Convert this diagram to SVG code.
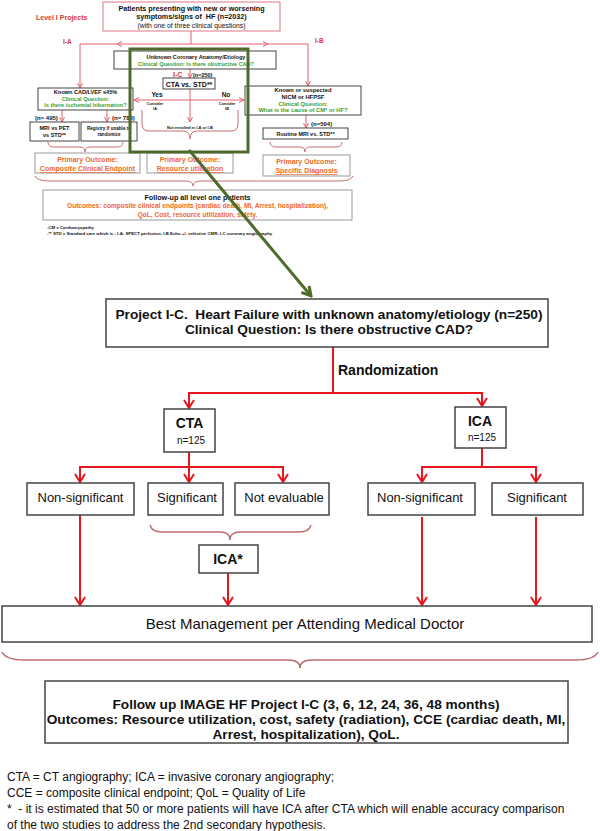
<svg xmlns="http://www.w3.org/2000/svg" width="600" height="831" viewBox="0 0 600 831">
<style>
text{font-family:"Liberation Sans",Arial,Helvetica,sans-serif;fill:#111}
.b{font-weight:bold}
.m{text-anchor:middle}
.red{fill:#d9383a}
.grn{fill:#3a9e35}
.org{fill:#f0692a}
.u{text-decoration:underline}
.bx{fill:#fff;stroke:#444;stroke-width:1.5}
.sb{fill:#fff;stroke:#444;stroke-width:1}
.gb{fill:#fff;stroke:#999;stroke-width:1}
.pl{fill:none;stroke:#e0606c;stroke-width:1}
.rl{fill:none;stroke:#e8161c;stroke-width:2}
.br{fill:none;stroke:#bf6c6c;stroke-width:1.5}
.brs{fill:none;stroke:#c87070;stroke-width:1}
.gr{fill:none;stroke:#4e6b2c;stroke-width:3}
</style>
<defs>
<marker id="aR" viewBox="0 0 10 12" refX="9" refY="6" markerWidth="10" markerHeight="12" orient="auto-start-reverse" markerUnits="userSpaceOnUse"><path d="M1,1 L9,6 L1,11" fill="none" stroke="#e8161c" stroke-width="2"/></marker>
<marker id="aP" viewBox="0 0 6 6" refX="5.5" refY="3" markerWidth="6" markerHeight="6" orient="auto-start-reverse" markerUnits="userSpaceOnUse"><path d="M0.5,0.5 L5.5,3 L0.5,5.5" fill="none" stroke="#e0606c" stroke-width="1"/></marker>
<marker id="aG" viewBox="0 0 12 12" refX="10" refY="6" markerWidth="12" markerHeight="12" orient="auto" markerUnits="userSpaceOnUse"><path d="M1,1 L10,6 L1,11" fill="none" stroke="#4e6b2c" stroke-width="3"/></marker>
</defs>

<!-- ===== Top overview (Level I projects) ===== -->
<g id="connectors-top">
<line class="pl" x1="191" y1="31" x2="191" y2="44"/>
<line class="pl" x1="117" y1="44" x2="268" y2="44" marker-start="url(#aP)" marker-end="url(#aP)"/>
<path class="pl" d="M117,44 L80,44 L80,88" marker-end="url(#aP)"/>
<path class="pl" d="M268,44 L308,44 L308,86" marker-end="url(#aP)"/>
<line class="pl" x1="190" y1="69" x2="190" y2="78" marker-end="url(#aP)"/>
<line class="pl" x1="134" y1="100" x2="244" y2="100" marker-start="url(#aP)" marker-end="url(#aP)"/>
<line class="pl" x1="190" y1="89" x2="190" y2="122" marker-end="url(#aP)"/>
<line class="pl" x1="62" y1="110" x2="62" y2="122" marker-end="url(#aP)"/>
<line class="pl" x1="107" y1="110" x2="107" y2="122" marker-end="url(#aP)"/>
<line class="pl" x1="306" y1="115" x2="306" y2="128" marker-end="url(#aP)"/>
<path class="brs" d="M142,110 L142,124 Q142,131 149,131 L183,131 Q190,131 190,139 Q190,131 197,131 L231,131 Q238,131 238,124 L238,110"/>
<path class="brs" d="M48,142 Q48,147 54,147 L80,147 Q85,147 85,152 Q85,147 90,147 L117,147 Q123,147 123,142"/>
<path class="brs" d="M270,142 Q270,147 276,147 L300,147 Q305,147 305,152 Q305,147 310,147 L336,147 Q342,147 342,142"/>
<path class="brs" d="M35,176 Q37,181 50,181 L185,181 Q193,181 193,186 Q193,181 201,181 L339,181 Q351,181 353,176"/>
</g>

<g id="top-labels">
<text class="b red" x="36" y="19.5" font-size="7">Level I Projects</text>
<text class="b red" x="63" y="44" font-size="6.5">I-A</text>
<text class="b red" x="315" y="43" font-size="6.5">I-B</text>
</g>

<g id="t-patients">
<rect x="103" y="2" width="177" height="29" fill="#fff" stroke="#e07585" stroke-width="1"/>
<text class="b m" x="191.5" y="10.5" font-size="7.2">Patients presenting with new or worsening</text>
<text class="b m" x="191.5" y="18.5" font-size="7.2" xml:space="preserve">symptoms/signs of  HF (n=2032)</text>
<text class="m" x="191.5" y="27.5" font-size="6.8">(with one of three clinical questions)</text>
</g>

<g id="t-unknown">
<rect class="sb" x="114" y="51" width="162" height="18"/>
<text class="b m" x="196" y="58.5" font-size="5.5">Unknown Coronary Anatomy/Etiology</text>
<text class="b m grn" x="196" y="65.5" font-size="5.5">Clinical Question: Is there obstructive CAD?</text>
</g>

<g id="t-ic">
<text class="b red" x="173" y="76.5" font-size="7">I-C</text>
<text class="b" x="193" y="76.5" font-size="5.5">(n=250)</text>
<rect class="sb" x="163" y="78" width="52" height="11"/>
<text class="b m" x="189" y="86.5" font-size="7">CTA vs. STD**</text>
<text class="b m" x="157" y="97" font-size="6.5">Yes</text>
<text class="b m" x="226" y="97" font-size="6.5">No</text>
<text class="b m" x="155" y="105" font-size="3.8">Consider</text>
<text class="b m" x="155" y="110" font-size="3.8">IA</text>
<text class="b m" x="227" y="105" font-size="3.8">Consider</text>
<text class="b m" x="227" y="110" font-size="3.8">IB</text>
<text class="b m" x="190" y="129" font-size="4">Not enrolled in I-A or I-B</text>
</g>

<g id="t-ia">
<rect class="sb" x="38" y="88" width="95" height="22"/>
<text class="b m" x="85.5" y="93.8" font-size="5.6">Known CAD/LVEF ≤45%</text>
<text class="b m grn" x="85.5" y="100.6" font-size="5.6">Clinical Question:</text>
<text class="b m grn" x="85.5" y="107.4" font-size="5.6">Is there ischemial hibernation?</text>
<text class="b" x="35" y="119.5" font-size="6">(n= 495)</text>
<text class="b" x="112" y="119.5" font-size="6">(n= 783)</text>
</g>

<g id="t-mri">
<rect class="sb" x="30" y="122" width="49" height="19"/>
<text class="b m" x="54.5" y="130" font-size="5.5">MRI vs PET</text>
<text class="b m" x="54.5" y="137" font-size="5.5">vs STD**</text>
</g>

<g id="t-registry">
<rect class="sb" x="81" y="122" width="56" height="19"/>
<text class="b m" x="109" y="129.5" font-size="4.6">Registry if unable to</text>
<text class="b m" x="109" y="136" font-size="4.6">randomize</text>
</g>

<g id="t-ib">
<rect class="sb" x="245" y="86" width="116" height="29"/>
<text class="b m" x="303" y="92" font-size="5.8">Known or suspected</text>
<text class="b m" x="303" y="98.8" font-size="5.8">NICM or HFPSF</text>
<text class="b m grn" x="303" y="105.6" font-size="5.8">Clinical Question:</text>
<text class="b m grn" x="303" y="112.4" font-size="5.8">What is the cause of CM* or HF?</text>
<text class="b" x="311" y="126" font-size="6">(n=504)</text>
</g>

<g id="t-routine">
<rect class="sb" x="263" y="128" width="85" height="11"/>
<text class="b m" x="305.5" y="135.8" font-size="5.5">Routine MRI vs. STD**</text>
</g>

<g id="t-out-a">
<rect class="gb" x="35" y="153" width="105" height="20"/>
<text class="b m org" x="87.5" y="162" font-size="7">Primary Outcome:</text>
<text class="b m org u" x="87.5" y="171" font-size="7">Composite Clinical Endpoint</text>
</g>
<g id="t-out-c">
<rect class="gb" x="147" y="153" width="86" height="20"/>
<text class="b m org" x="190" y="162" font-size="7">Primary Outcome:</text>
<text class="b m org u" x="190" y="171" font-size="7">Resource utilization</text>
</g>
<g id="t-out-b">
<rect class="gb" x="263" y="155" width="87" height="21"/>
<text class="b m org" x="306.5" y="164" font-size="7">Primary Outcome:</text>
<text class="b m org u" x="306.5" y="173" font-size="7">Specific Diagnosis</text>
</g>

<g id="t-followup">
<rect class="gb" x="43" y="190" width="309" height="30"/>
<text class="b m" x="197.5" y="199.5" font-size="7.2">Follow-up all level one patients</text>
<text class="b m org" x="197.5" y="208.2" font-size="6.6">Outcomes: composite clinical endpoints (cardiac death, MI, Arrest, hospitalization),</text>
<text class="b m org" x="197.5" y="216.6" font-size="6.6">QoL, Cost, resource utilization, safety.</text>
</g>

<g id="t-notes">
<text class="b" x="47" y="229" font-size="4.3">-CM = Cardiomyopathy</text>
<text class="b" x="47" y="234.5" font-size="4.3">-** STD = Standard care which is : I-A: SPECT perfusion; I-B Echo +/- selective CMR; I-C coronary angiography</text>
</g>

<g id="highlight">
<rect class="gr" x="130" y="49" width="118" height="103"/>
<line class="gr" x1="189" y1="150" x2="311" y2="296" marker-end="url(#aG)"/>
</g>

<!-- ===== Project I-C detail ===== -->
<g id="connectors">
<line class="rl" x1="333" y1="347" x2="333" y2="393"/>
<line class="rl" x1="188" y1="393" x2="483" y2="393"/>
<line class="rl" x1="189" y1="393" x2="189" y2="408" marker-end="url(#aR)"/>
<line class="rl" x1="482" y1="393" x2="482" y2="406" marker-end="url(#aR)"/>
<line class="rl" x1="189" y1="452" x2="189" y2="467"/>
<line class="rl" x1="79" y1="467" x2="284" y2="467"/>
<line class="rl" x1="80" y1="467" x2="80" y2="482" marker-end="url(#aR)"/>
<line class="rl" x1="189" y1="467" x2="189" y2="482" marker-end="url(#aR)"/>
<line class="rl" x1="283" y1="467" x2="283" y2="482" marker-end="url(#aR)"/>
<line class="rl" x1="482" y1="448" x2="482" y2="467"/>
<line class="rl" x1="421" y1="467" x2="537" y2="467"/>
<line class="rl" x1="422" y1="467" x2="422" y2="482" marker-end="url(#aR)"/>
<line class="rl" x1="536" y1="467" x2="536" y2="482" marker-end="url(#aR)"/>
<line class="rl" x1="80" y1="515" x2="80" y2="605" marker-end="url(#aR)"/>
<line class="rl" x1="228" y1="573" x2="228" y2="605" marker-end="url(#aR)"/>
<line class="rl" x1="422" y1="517" x2="422" y2="605" marker-end="url(#aR)"/>
<line class="rl" x1="536" y1="517" x2="536" y2="605" marker-end="url(#aR)"/>
<path class="br" d="M150,525 Q152,532 162,532 L220,532 Q230,532 230,540 Q230,532 240,532 L299,532 Q309,532 311,525"/>
<path class="br" d="M2,652 Q6,660 24,660 L288,660 Q300,660 300,668 Q300,660 312,660 L576,660 Q594,660 598,652"/>
</g>

<g id="n-project">
<rect class="bx" x="106" y="299" width="442" height="48"/>
<text class="b m" x="329" y="319" font-size="13.7" xml:space="preserve">Project I-C.  Heart Failure with unknown anatomy/etiology (n=250)</text>
<text class="b m" x="329" y="334" font-size="13.7">Clinical Question: Is there obstructive CAD?</text>
</g>

<g id="n-randomization">
<text class="b" x="338" y="375" font-size="14">Randomization</text>
</g>

<g id="n-cta">
<rect class="bx" x="164" y="409" width="51" height="43"/>
<text class="b m" x="189.5" y="428" font-size="14">CTA</text>
<text class="m" x="191" y="444" font-size="10">n=125</text>
</g>

<g id="n-ica">
<rect class="bx" x="455" y="407" width="51" height="41"/>
<text class="b m" x="480" y="426" font-size="14">ICA</text>
<text class="m" x="482" y="441" font-size="10">n=125</text>
</g>

<g id="n-cta-nonsig">
<rect class="bx" x="27" y="483" width="107" height="32"/>
<text class="m" x="80.5" y="501.5" font-size="13">Non-significant</text>
</g>
<g id="n-cta-sig">
<rect class="bx" x="148" y="483" width="75" height="32"/>
<text class="m" x="187" y="501.5" font-size="13">Significant</text>
</g>
<g id="n-cta-ne">
<rect class="bx" x="235" y="483" width="94" height="32"/>
<text class="m" x="284" y="501.5" font-size="13">Not evaluable</text>
</g>
<g id="n-ica-nonsig">
<rect class="bx" x="368" y="483" width="107" height="32"/>
<text class="m" x="420" y="501.5" font-size="13">Non-significant</text>
</g>
<g id="n-ica-sig">
<rect class="bx" x="492" y="483" width="91" height="32"/>
<text class="m" x="537" y="501.5" font-size="13">Significant</text>
</g>

<g id="n-ica-star">
<rect class="bx" x="199" y="545" width="59" height="28"/>
<text class="b m" x="228" y="564" font-size="14">ICA*</text>
</g>

<g id="n-best">
<rect class="bx" x="2" y="606" width="590" height="36"/>
<text class="m" x="305" y="629" font-size="15">Best Management per Attending Medical Doctor</text>
</g>

<g id="n-follow">
<rect class="bx" x="45" y="681" width="523" height="62"/>
<text class="b m" x="306" y="709" font-size="13.7">Follow up IMAGE HF Project I-C (3, 6, 12, 24, 36, 48 months)</text>
<text class="b m" x="306" y="724" font-size="13.7">Outcomes: Resource utilization, cost, safety (radiation), CCE (cardiac death, MI,</text>
<text class="b m" x="306" y="739" font-size="13.7">Arrest, hospitalization), QoL.</text>
</g>

<g id="footnotes">
<text x="7" y="781" font-size="12" fill="#222">CTA = CT angiography; ICA = invasive coronary angiography;</text>
<text x="7" y="797" font-size="12" fill="#222">CCE = composite clinical endpoint; QoL = Quality of Life</text>
<text x="7" y="813" font-size="12" fill="#222" xml:space="preserve">*  - it is estimated that 50 or more patients will have ICA after CTA which will enable accuracy comparison</text>
<text x="7" y="829" font-size="12" fill="#222">of the two studies to address the 2nd secondary hypothesis.</text>
</g>
</svg>
